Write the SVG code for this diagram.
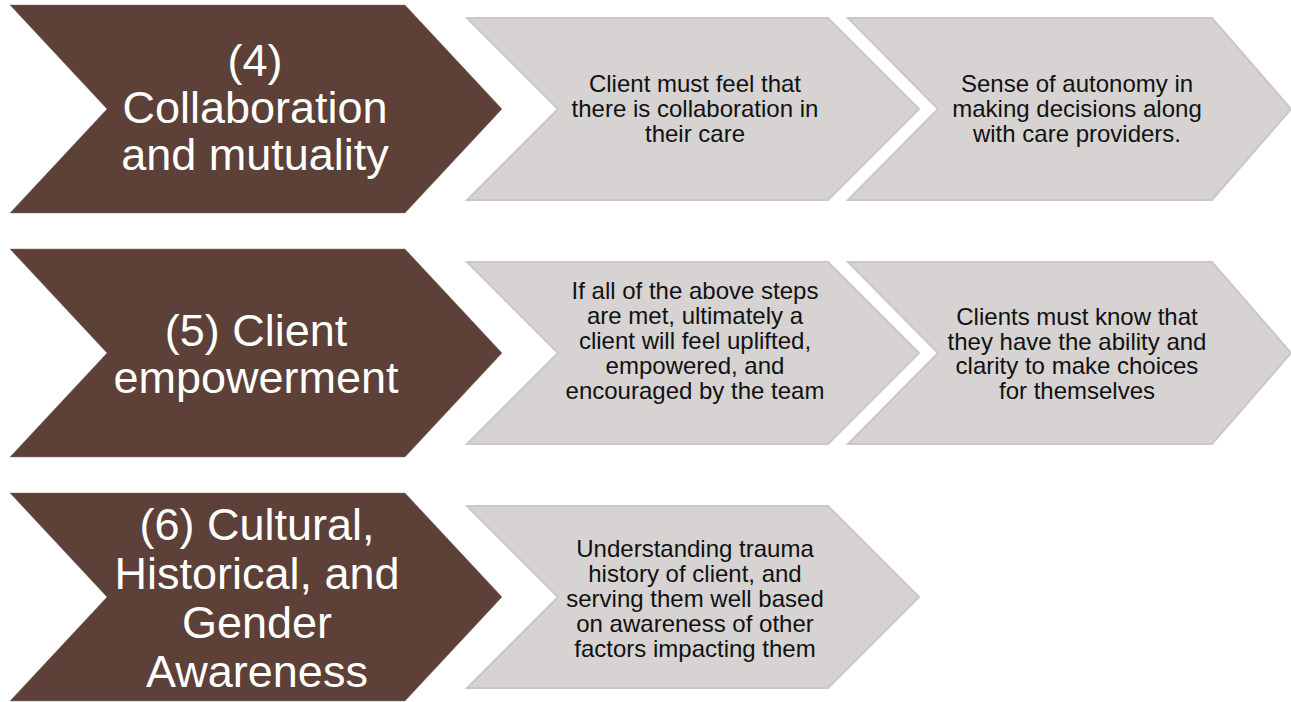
<svg xmlns="http://www.w3.org/2000/svg" width="1291" height="702" viewBox="0 0 1291 702">
<style>
.main{fill:#5d4037;stroke:#8a7670;stroke-width:1;stroke-opacity:0.5}
.sub{fill:#d6d3d2;stroke:#cbc7c5;stroke-width:2}
.mt{font-family:"Liberation Sans",Arial,sans-serif;font-size:45px;fill:#ffffff;text-anchor:middle}
.st{font-family:"Liberation Sans",Arial,sans-serif;font-size:24px;fill:#111111;text-anchor:middle}
</style>
<rect width="1291" height="702" fill="#ffffff"/>
<g id="connectors"/>
<g id="n4">
<polygon class="main" points="10,5 405,5 502,109 405,213 10,213 107,109"/>
<text class="mt" x="255" y="76">(4)</text>
<text class="mt" x="255" y="123">Collaboration</text>
<text class="mt" x="255" y="170">and mutuality</text>
</g>
<g id="n4a">
<polygon class="sub" points="467,18 828,18 919,109 828,200 467,200 558,109"/>
<text class="st" x="695" y="92">Client must feel that</text>
<text class="st" x="695" y="117">there is collaboration in</text>
<text class="st" x="695" y="142">their care</text>
</g>
<g id="n4b">
<polygon class="sub" points="848,18 1212,18 1291,109 1212,200 848,200 938,109"/>
<text class="st" x="1077" y="92">Sense of autonomy in</text>
<text class="st" x="1077" y="117">making decisions along</text>
<text class="st" x="1077" y="142">with care providers.</text>
</g>
<g id="n5">
<polygon class="main" points="10,249 405,249 502,353 405,457 10,457 107,353"/>
<text class="mt" x="256" y="346">(5) Client</text>
<text class="mt" x="256" y="393">empowerment</text>
</g>
<g id="n5a">
<polygon class="sub" points="467,262 828,262 919,353 828,444 467,444 558,353"/>
<text class="st" x="695" y="299">If all of the above steps</text>
<text class="st" x="695" y="324">are met, ultimately a</text>
<text class="st" x="695" y="349">client will feel uplifted,</text>
<text class="st" x="695" y="374">empowered, and</text>
<text class="st" x="695" y="399">encouraged by the team</text>
</g>
<g id="n5b">
<polygon class="sub" points="848,262 1212,262 1291,353 1212,444 848,444 938,353"/>
<text class="st" x="1077" y="325">Clients must know that</text>
<text class="st" x="1077" y="349.5">they have the ability and</text>
<text class="st" x="1077" y="374">clarity to make choices</text>
<text class="st" x="1077" y="398.5">for themselves</text>
</g>
<g id="n6">
<polygon class="main" points="10,493 405,493 502,597 405,701 10,701 107,597"/>
<text class="mt" x="257" y="540">(6) Cultural,</text>
<text class="mt" x="257" y="589">Historical, and</text>
<text class="mt" x="257" y="638">Gender</text>
<text class="mt" x="257" y="687">Awareness</text>
</g>
<g id="n6a">
<polygon class="sub" points="467,506 828,506 919,597 828,688 467,688 558,597"/>
<text class="st" x="695" y="557">Understanding trauma</text>
<text class="st" x="695" y="582">history of client, and</text>
<text class="st" x="695" y="607">serving them well based</text>
<text class="st" x="695" y="632">on awareness of other</text>
<text class="st" x="695" y="657">factors impacting them</text>
</g>
</svg>
